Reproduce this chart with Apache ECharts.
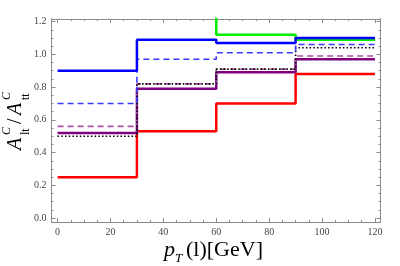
<!DOCTYPE html>
<html><head><meta charset="utf-8">
<script src="https://cdn.jsdelivr.net/npm/echarts@6/dist/echarts.min.js"></script>
<style>html,body{margin:0;padding:0;background:#fff}#c{width:400px;height:266px}</style>
</head><body><div id="c"></div>
<script>
// ---- data ----
const binEdges     = [0, 30, 60, 90, 120];
const redSolid     = [0.25, 0.53, 0.70, 0.88];
const purpleSolid  = [0.52, 0.79, 0.89, 0.97];
const purpleDashed = [0.56, 0.82, 0.91, 0.99];
const blackDotted  = [0.50, 0.82, 0.91, 1.04];
const blueDashed   = [0.70, 0.97, 1.01, 1.06];
const blueSolid    = [0.90, 1.09, 1.07, 1.10];
const greenSolid   = [1.60, 1.40, 1.12, 1.09];
const xTickLabels  = [0, 20, 40, 60, 80, 100, 120];
const yTickLabels  = [0.0, 0.2, 0.4, 0.6, 0.8, 1.0, 1.2];

// ---- layout/style ----
const XMIN = -2.3, XMAX = 122.1, YMIN = -0.024, YMAX = 1.216;
const FRAME = '#8a8a8a';
const SERIF = '"Liberation Serif","DejaVu Serif",serif';

function minors(lo, hi, step) {
  const out = [];
  for (let v = lo; v <= hi + 1e-9; v += step) out.push(+v.toFixed(4));
  return out;
}
const xMinor = minors(0, 120, 5);
const yMinor = minors(0, 1.2, 0.05);

function steps(vals) {
  return binEdges.map((x, i) => [x, vals[Math.min(i, vals.length - 1)]]);
}

function axis(kind, pos, ticks, len, labels, fmt) {
  return {
    type: 'value', position: pos,
    min: kind === 'x' ? XMIN : YMIN, max: kind === 'x' ? XMAX : YMAX,
    axisLine: { show: true, onZero: false, lineStyle: { color: FRAME, width: 1 } },
    axisTick: { show: true, inside: true, length: len, customValues: ticks, lineStyle: { color: FRAME, width: 1 } },
    axisLabel: labels ? { show: true, customValues: labels, margin: 5, fontFamily: SERIF, fontSize: 10, color: '#444', formatter: fmt } : { show: false },
    splitLine: { show: false }
  };
}

const chart = echarts.init(document.getElementById('c'), null, { renderer: 'canvas' });

function line(vals, color, width, type) {
  return {
    type: 'line', step: 'end', symbol: 'none', data: steps(vals),
    xAxisIndex: 0, yAxisIndex: 0, clip: true,
    lineStyle: { color: color, width: width, type: type, cap: 'butt' },
    emphasis: { disabled: true }
  };
}

chart.setOption({
  animation: false,
  backgroundColor: '#fff',
  grid: { left: 51.5, right: 19.5, top: 19, bottom: 44, containLabel: false },
  xAxis: [
    axis('x', 'bottom', xTickLabels, 4, xTickLabels, v => String(v)),
    axis('x', 'bottom', xMinor, 2, null),
    axis('x', 'top', xTickLabels, 4, null),
    axis('x', 'top', xMinor, 2, null)
  ],
  yAxis: [
    axis('y', 'left', yTickLabels, 4, yTickLabels, v => v.toFixed(1)),
    axis('y', 'left', yMinor, 2, null),
    axis('y', 'right', yTickLabels, 4, null),
    axis('y', 'right', yMinor, 2, null)
  ],
  series: [
    line(redSolid, '#ff0000', 2.5, 'solid'),
    line(purpleSolid, '#800080', 2.5, 'solid'),
    line(purpleDashed, '#a650a6', 1.6, [6, 4]),
    line(blackDotted, '#000000', 1.6, [1.5, 2.2]),
    line(blueDashed, '#3a3aff', 1.6, [6, 4]),
    line(greenSolid, '#00ee00', 2.5, 'solid'),
    line(blueSolid, '#0000ff', 2.5, 'solid')
  ],
  graphic: [
    {
      type: 'group', x: 23, y: 150, rotation: Math.PI / 2,
      children: [
        { type: 'text', x: 0,  y: -6.8, style: { text: 'A', fontSize: 20, fontFamily: SERIF, fontStyle: 'italic', fill: '#000', verticalAlign: 'middle', textVerticalAlign: 'middle' } },
        { type: 'text', x: 15, y: -16, style: { text: 'C', fontSize: 12, fontFamily: SERIF, fontStyle: 'italic', fill: '#000', verticalAlign: 'middle', textVerticalAlign: 'middle' } },
        { type: 'text', x: 15, y: 3,   style: { text: 'lt', fontSize: 12, fontFamily: SERIF, fill: '#000', verticalAlign: 'middle', textVerticalAlign: 'middle' } },
        { type: 'text', x: 26, y: -6.8, style: { text: '/', fontSize: 20, fontFamily: SERIF, fill: '#000', verticalAlign: 'middle', textVerticalAlign: 'middle' } },
        { type: 'text', x: 35, y: -6.8, style: { text: 'A', fontSize: 20, fontFamily: SERIF, fontStyle: 'italic', fill: '#000', verticalAlign: 'middle', textVerticalAlign: 'middle' } },
        { type: 'text', x: 50, y: -16, style: { text: 'C', fontSize: 12, fontFamily: SERIF, fontStyle: 'italic', fill: '#000', verticalAlign: 'middle', textVerticalAlign: 'middle' } },
        { type: 'text', x: 50, y: 3,   style: { text: 'tt', fontSize: 12, fontFamily: SERIF, fill: '#000', verticalAlign: 'middle', textVerticalAlign: 'middle' } }
      ]
    },
    { type: 'text', x: 164, y: 250, style: { text: 'p', fontSize: 22, fontFamily: SERIF, fontStyle: 'italic', fill: '#000', verticalAlign: 'middle', textVerticalAlign: 'middle' } },
    { type: 'text', x: 175, y: 259, style: { text: 'T', fontSize: 13, fontFamily: SERIF, fontStyle: 'italic', fill: '#000', verticalAlign: 'middle', textVerticalAlign: 'middle' } },
    { type: 'text', x: 186, y: 250, style: { text: '(l)[GeV]', fontSize: 22, fontFamily: SERIF, fill: '#000', verticalAlign: 'middle', textVerticalAlign: 'middle' } }
  ]
});
</script>
</body></html>
